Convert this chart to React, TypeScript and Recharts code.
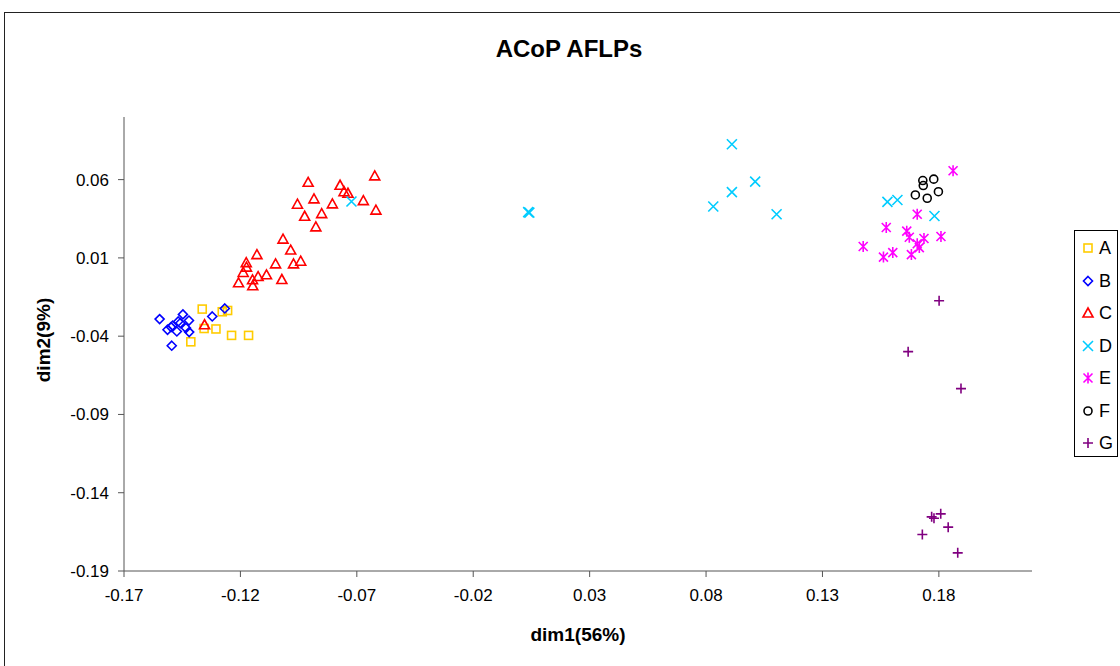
import React from "react"
import { Label, Scatter, ScatterChart, XAxis, YAxis } from "recharts"

type Pt = { x: number; y: number }

const groupA: Pt[] = [
  { x: -0.1364, y: -0.0227 },
  { x: -0.1278, y: -0.0244 },
  { x: -0.1255, y: -0.0236 },
  { x: -0.1356, y: -0.0351 },
  { x: -0.1305, y: -0.0354 },
  { x: -0.1413, y: -0.0436 },
  { x: -0.1238, y: -0.0395 },
  { x: -0.1165, y: -0.0395 },
]

const groupB: Pt[] = [
  { x: -0.1547, y: -0.0291 },
  { x: -0.1447, y: -0.0261 },
  { x: -0.1421, y: -0.03 },
  { x: -0.1467, y: -0.0306 },
  { x: -0.1491, y: -0.0333 },
  { x: -0.1513, y: -0.0359 },
  { x: -0.1473, y: -0.037 },
  { x: -0.1434, y: -0.0348 },
  { x: -0.142, y: -0.0374 },
  { x: -0.1495, y: -0.0461 },
  { x: -0.1321, y: -0.0274 },
  { x: -0.1267, y: -0.0223 },
  { x: -0.1458, y: -0.0316 },
  { x: -0.1498, y: -0.0342 },
]

const groupC: Pt[] = [
  { x: -0.0909, y: 0.0583 },
  { x: -0.0772, y: 0.0564 },
  { x: -0.0755, y: 0.0523 },
  { x: -0.0738, y: 0.0513 },
  { x: -0.0884, y: 0.0477 },
  { x: -0.0955, y: 0.0443 },
  { x: -0.0805, y: 0.0445 },
  { x: -0.0672, y: 0.0466 },
  { x: -0.0623, y: 0.0624 },
  { x: -0.0618, y: 0.0405 },
  { x: -0.0924, y: 0.0366 },
  { x: -0.0851, y: 0.0383 },
  { x: -0.0876, y: 0.0298 },
  { x: -0.1017, y: 0.022 },
  { x: -0.0984, y: 0.015 },
  { x: -0.1129, y: 0.0121 },
  { x: -0.1049, y: 0.0062 },
  { x: -0.0972, y: 0.0062 },
  { x: -0.0941, y: 0.0079 },
  { x: -0.1175, y: 0.007 },
  { x: -0.1174, y: 0.0041 },
  { x: -0.1188, y: 0.0007 },
  { x: -0.1088, y: -0.0008 },
  { x: -0.1124, y: -0.0019 },
  { x: -0.1148, y: -0.004 },
  { x: -0.1208, y: -0.0059 },
  { x: -0.1147, y: -0.0078 },
  { x: -0.1022, y: -0.0038 },
  { x: -0.1354, y: -0.0327 },
]

const groupD: Pt[] = [
  { x: -0.0723, y: 0.046 },
  { x: 0.0036, y: 0.0392 },
  { x: 0.0041, y: 0.0389 },
  { x: 0.0911, y: 0.0826 },
  { x: 0.1011, y: 0.0587 },
  { x: 0.0911, y: 0.052 },
  { x: 0.0831, y: 0.0428 },
  { x: 0.1103, y: 0.0379 },
  { x: 0.1579, y: 0.0458 },
  { x: 0.1622, y: 0.047 },
  { x: 0.1781, y: 0.0368 },
]

const groupE: Pt[] = [
  { x: 0.1861, y: 0.0657 },
  { x: 0.1707, y: 0.0379 },
  { x: 0.1574, y: 0.0294 },
  { x: 0.1662, y: 0.0271 },
  { x: 0.1673, y: 0.0232 },
  { x: 0.1736, y: 0.0224 },
  { x: 0.1809, y: 0.0237 },
  { x: 0.1475, y: 0.0173 },
  { x: 0.1707, y: 0.019 },
  { x: 0.1716, y: 0.0166 },
  { x: 0.1602, y: 0.0134 },
  { x: 0.1562, y: 0.0105 },
  { x: 0.1682, y: 0.0121 },
]

const groupF: Pt[] = [
  { x: 0.1731, y: 0.0594 },
  { x: 0.1733, y: 0.0562 },
  { x: 0.1778, y: 0.0603 },
  { x: 0.1699, y: 0.0502 },
  { x: 0.175, y: 0.0481 },
  { x: 0.1798, y: 0.0523 },
]

const groupG: Pt[] = [
  { x: 0.1801, y: -0.0174 },
  { x: 0.1668, y: -0.0499 },
  { x: 0.1895, y: -0.0735 },
  { x: 0.1769, y: -0.1554 },
  { x: 0.1779, y: -0.1563 },
  { x: 0.1808, y: -0.1535 },
  { x: 0.184, y: -0.162 },
  { x: 0.1729, y: -0.1667 },
  { x: 0.1881, y: -0.1784 },
]

const xTicks = [-0.17, -0.12, -0.07, -0.02, 0.03, 0.08, 0.13, 0.18]
const yTicks = [-0.19, -0.14, -0.09, -0.04, 0.01, 0.06]

type MarkerKind = "square" | "diamond" | "triangle" | "x" | "star" | "circle" | "plus"

const SERIES: { name: string; data: Pt[]; kind: MarkerKind; color: string }[] = [
  { name: "A", data: groupA, kind: "square", color: "#FFCC00" },
  { name: "B", data: groupB, kind: "diamond", color: "#0000FF" },
  { name: "C", data: groupC, kind: "triangle", color: "#FF0000" },
  { name: "D", data: groupD, kind: "x", color: "#00CCFF" },
  { name: "E", data: groupE, kind: "star", color: "#FF00FF" },
  { name: "F", data: groupF, kind: "circle", color: "#000000" },
  { name: "G", data: groupG, kind: "plus", color: "#800080" },
]

const FONT = '"Liberation Sans", Arial, sans-serif'
const AXIS_COLOR = "#555"
const TICK = { fill: "#000", fontSize: 17, fontFamily: FONT }

// Excel-style hollow markers
function Marker({ cx, cy, kind, color }: { cx: number; cy: number; kind: MarkerKind; color: string }) {
  const s = { stroke: color, strokeWidth: 1.6, fill: "none" }
  switch (kind) {
    case "square":
      return <rect x={cx - 4} y={cy - 4} width={8} height={8} {...s} />
    case "diamond":
      return <polygon points={`${cx},${cy - 4.5} ${cx + 4.5},${cy} ${cx},${cy + 4.5} ${cx - 4.5},${cy}`} {...s} />
    case "triangle":
      return <polygon points={`${cx},${cy - 5} ${cx + 5},${cy + 4} ${cx - 5},${cy + 4}`} {...s} />
    case "x":
      return <path d={`M${cx - 5},${cy - 5}L${cx + 5},${cy + 5}M${cx + 5},${cy - 5}L${cx - 5},${cy + 5}`} {...s} />
    case "star":
      return (
        <path
          d={`M${cx - 4.5},${cy - 4.5}L${cx + 4.5},${cy + 4.5}M${cx + 4.5},${cy - 4.5}L${cx - 4.5},${cy + 4.5}M${cx},${cy - 5.5}L${cx},${cy + 5.5}`}
          {...s}
        />
      )
    case "circle":
      return <circle cx={cx} cy={cy} r={4} {...s} />
    case "plus":
      return <path d={`M${cx - 5},${cy}L${cx + 5},${cy}M${cx},${cy - 5}L${cx},${cy + 5}`} {...s} />
  }
}

function XTitle({ viewBox }: any) {
  const { x, y, width } = viewBox
  return (
    <text x={x + width / 2} y={y + 70} textAnchor="middle" fontFamily={FONT} fontWeight="bold" fontSize={19}>
      dim1(56%)
    </text>
  )
}

function YTitle({ viewBox }: any) {
  const { x, y, width, height } = viewBox
  const tx = x + width - 74
  const ty = y + height / 2 - 4
  return (
    <text
      x={tx}
      y={ty}
      transform={`rotate(-90, ${tx}, ${ty})`}
      textAnchor="middle"
      fontFamily={FONT}
      fontWeight="bold"
      fontSize={19}
    >
      dim2(9%)
    </text>
  )
}

function LegendBox() {
  return (
    <div
      style={{
        position: "absolute",
        left: 1074,
        top: 230,
        width: 44,
        height: 227,
        border: "1px solid #000",
        boxSizing: "border-box",
        background: "#fff",
      }}
    >
      {SERIES.map((s, i) => (
        <div
          key={s.name}
          style={{ position: "absolute", left: 0, top: 4 + i * 32.5, height: 26, display: "flex", alignItems: "center" }}
        >
          <svg width={24} height={26}>
            <Marker cx={13} cy={13} kind={s.kind} color={s.color} />
          </svg>
          <span style={{ fontFamily: FONT, fontSize: 18, lineHeight: "26px" }}>{s.name}</span>
        </div>
      ))}
    </div>
  )
}

export default function App() {
  return (
    <div style={{ position: "absolute", left: 0, top: 0, width: 1120, height: 666, overflow: "hidden", background: "#fff" }}>
      <div
        style={{
          position: "absolute",
          left: 4,
          top: 12,
          width: 1200,
          height: 800,
          borderLeft: "1px solid #222",
          borderTop: "1px solid #222",
        }}
      />
      <svg style={{ position: "absolute", left: 0, top: 0 }} width={1120} height={80}>
        <text x={569} y={57} textAnchor="middle" fontFamily={FONT} fontWeight="bold" fontSize={24}>
          ACoP AFLPs
        </text>
      </svg>
      <div style={{ position: "absolute", left: 0, top: 0 }}>
        <ScatterChart width={1120} height={666} margin={{ top: 117, right: 88, bottom: 65, left: 64 }}>
          <XAxis
            type="number"
            dataKey="x"
            domain={[-0.17, 0.22]}
            ticks={xTicks}
            allowDataOverflow
            tickFormatter={(v: number) => v.toFixed(2)}
            tick={TICK}
            tickSize={6}
            tickMargin={12}
            stroke={AXIS_COLOR}
            height={30}
          >
            <Label content={<XTitle />} />
          </XAxis>
          <YAxis
            type="number"
            dataKey="y"
            domain={[-0.19, 0.1]}
            ticks={yTicks}
            allowDataOverflow
            tickFormatter={(v: number) => v.toFixed(2)}
            tick={TICK}
            tickSize={6}
            tickMargin={9}
            stroke={AXIS_COLOR}
            width={60}
          >
            <Label content={<YTitle />} />
          </YAxis>
          {SERIES.map((s) => (
            <Scatter
              key={s.name}
              name={s.name}
              data={s.data}
              isAnimationActive={false}
              shape={(p: any) => <Marker cx={p.cx} cy={p.cy} kind={s.kind} color={s.color} />}
            />
          ))}
        </ScatterChart>
      </div>
      <LegendBox />
    </div>
  )
}
